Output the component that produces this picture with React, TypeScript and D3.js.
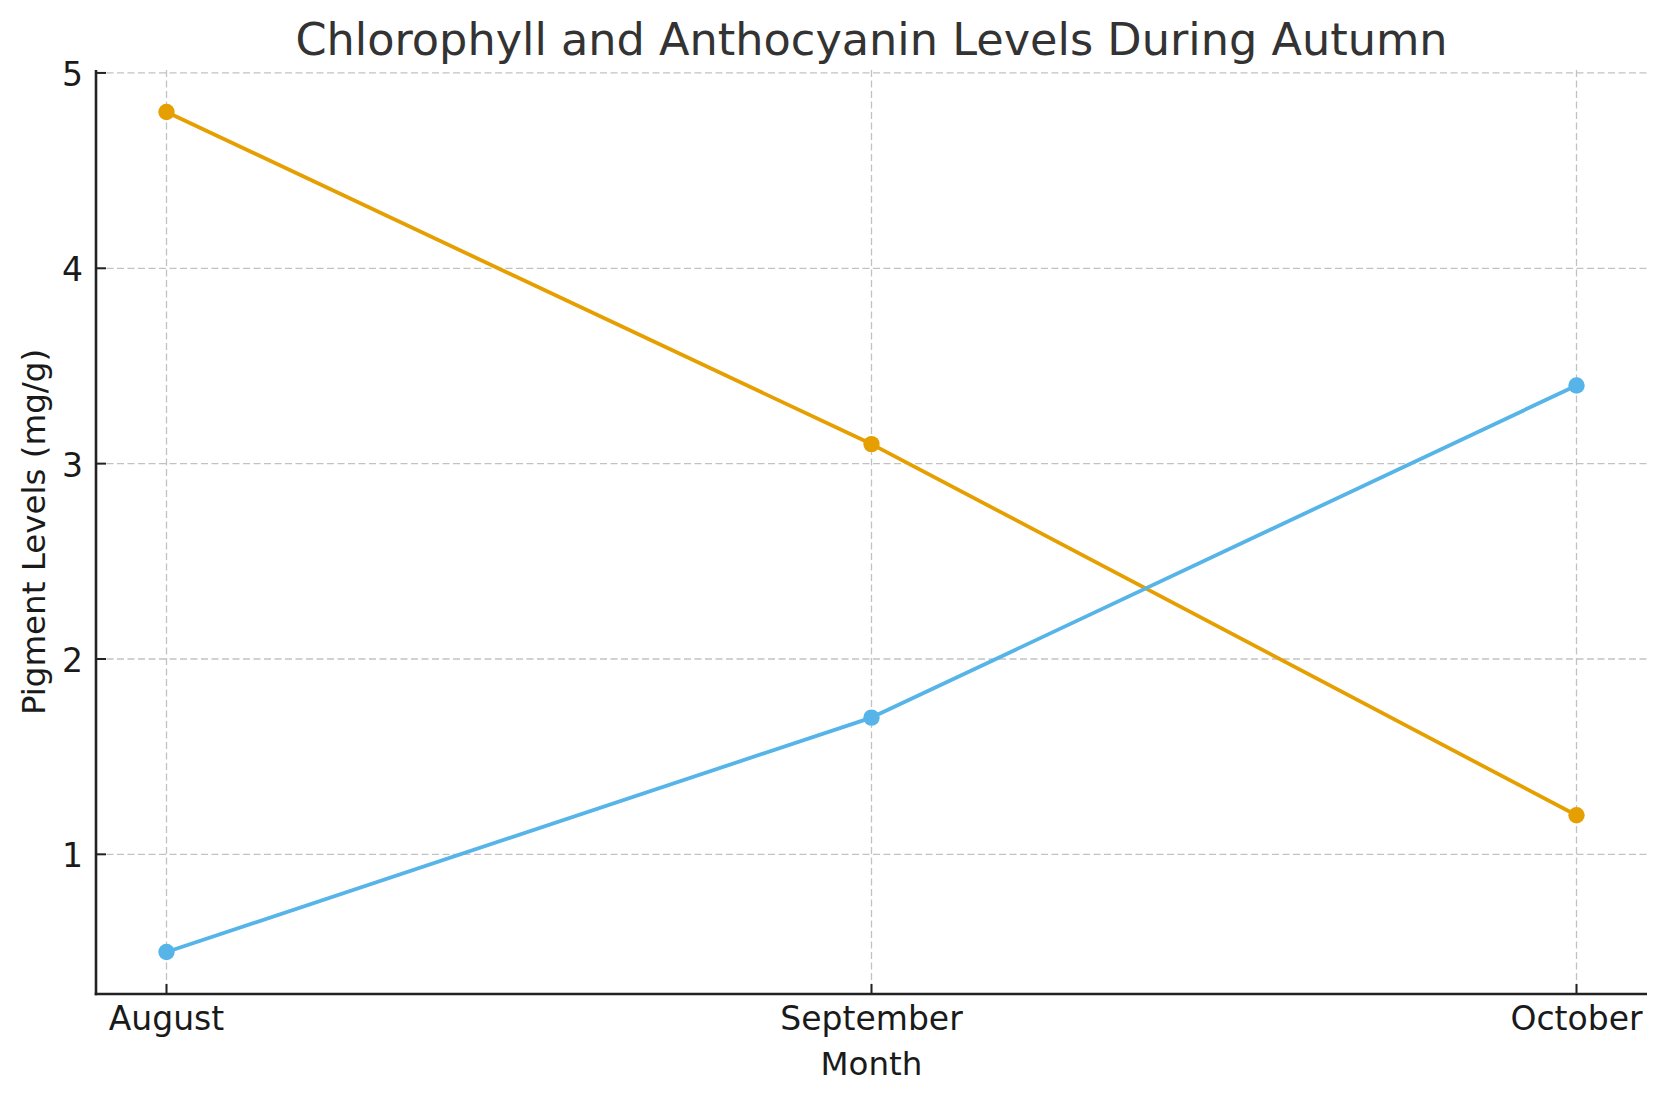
import React, { useRef, useEffect } from 'react';
import * as d3 from 'd3';

// chart data
const months = ['August', 'September', 'October'];
const chlorophyll = [4.8, 3.1, 1.2];
const anthocyanin = [0.5, 1.7, 3.4];
const yTickValues = [1, 2, 3, 4, 5];

const config = {
    w: 1665,
    h: 1101,
    left: 96,
    right: 1647,
    top: 70,
    bottom: 994,
    font: "'DejaVu Sans', sans-serif"
};

const series = [
    { name: 'Chlorophyll', values: chlorophyll, color: '#E69F00' },
    { name: 'Anthocyanin', values: anthocyanin, color: '#56B4E9' }
];

const App = () => {
    const svgRef = useRef(null);

    useEffect(() => {
        const svg = d3.select(svgRef.current);
        svg.selectAll('*').remove();

        const xScale = d3.scalePoint()
            .domain(months)
            .range([config.left, config.right])
            .padding(0.1);

        // matplotlib style 5% margins on the data range
        const all = [...chlorophyll, ...anthocyanin];
        const lo = d3.min(all), hi = d3.max(all);
        const pad = (hi - lo) * 0.05;
        const yScale = d3.scaleLinear()
            .domain([lo - pad, hi + pad])
            .range([config.bottom, config.top]);

        // grid
        const grid = svg.append('g')
            .attr('stroke', '#c2c2c2')
            .attr('stroke-width', 1.3)
            .attr('stroke-dasharray', '7,3.5');
        grid.selectAll('line.h')
            .data(yTickValues)
            .join('line')
            .attr('class', 'h')
            .attr('x1', config.left).attr('x2', config.right)
            .attr('y1', d => yScale(d)).attr('y2', d => yScale(d));
        grid.selectAll('line.v')
            .data(months)
            .join('line')
            .attr('class', 'v')
            .attr('y1', config.top).attr('y2', config.bottom)
            .attr('x1', d => xScale(d)).attr('x2', d => xScale(d));

        // lines + markers
        const line = d3.line()
            .x((d, i) => xScale(months[i]))
            .y(d => yScale(d));

        series.forEach(s => {
            svg.append('path')
                .datum(s.values)
                .attr('d', line)
                .attr('fill', 'none')
                .attr('stroke', s.color)
                .attr('stroke-width', 3.8)
                .attr('stroke-linejoin', 'round');
            svg.append('g')
                .selectAll('circle')
                .data(s.values)
                .join('circle')
                .attr('cx', (d, i) => xScale(months[i]))
                .attr('cy', d => yScale(d))
                .attr('r', 8.2)
                .attr('fill', s.color);
        });

        // spines
        const axisColor = '#222';
        svg.append('line')
            .attr('x1', config.left).attr('x2', config.left)
            .attr('y1', config.top).attr('y2', config.bottom + 1.3)
            .attr('stroke', axisColor).attr('stroke-width', 2.6);
        svg.append('line')
            .attr('x1', config.left - 1.3).attr('x2', config.right)
            .attr('y1', config.bottom).attr('y2', config.bottom)
            .attr('stroke', axisColor).attr('stroke-width', 2.6);

        // ticks (pointing in)
        svg.append('g').selectAll('line')
            .data(yTickValues)
            .join('line')
            .attr('x1', config.left).attr('x2', config.left + 10)
            .attr('y1', d => yScale(d)).attr('y2', d => yScale(d))
            .attr('stroke', axisColor).attr('stroke-width', 2);
        svg.append('g').selectAll('line')
            .data(months)
            .join('line')
            .attr('x1', d => xScale(d)).attr('x2', d => xScale(d))
            .attr('y1', config.bottom).attr('y2', config.bottom - 10)
            .attr('stroke', axisColor).attr('stroke-width', 2);

        // tick labels
        svg.append('g').selectAll('text')
            .data(yTickValues)
            .join('text')
            .attr('x', config.left - 13)
            .attr('y', d => yScale(d) + 13)
            .attr('text-anchor', 'end')
            .attr('font-size', 33)
            .attr('font-family', config.font)
            .attr('fill', '#1a1a1a')
            .text(d => d);
        svg.append('g').selectAll('text')
            .data(months)
            .join('text')
            .attr('x', d => xScale(d))
            .attr('y', 1030)
            .attr('text-anchor', 'middle')
            .attr('font-size', 33)
            .attr('font-family', config.font)
            .attr('fill', '#1a1a1a')
            .text(d => d);

        // axis labels
        svg.append('text')
            .attr('x', (config.left + config.right) / 2)
            .attr('y', 1075)
            .attr('text-anchor', 'middle')
            .attr('font-size', 32.5)
            .attr('font-family', config.font)
            .attr('fill', '#1a1a1a')
            .text('Month');
        svg.append('text')
            .attr('transform', `translate(45,${(config.top + config.bottom) / 2}) rotate(-90)`)
            .attr('text-anchor', 'middle')
            .attr('font-size', 32.5)
            .attr('font-family', config.font)
            .attr('fill', '#1a1a1a')
            .text('Pigment Levels (mg/g)');

        // title
        svg.append('text')
            .attr('x', (config.left + config.right) / 2)
            .attr('y', 55)
            .attr('text-anchor', 'middle')
            .attr('font-size', 44.6)
            .attr('font-family', config.font)
            .attr('fill', '#333')
            .text('Chlorophyll and Anthocyanin Levels During Autumn');
    }, []);

    return (
        <svg ref={svgRef} width={config.w} height={config.h}
            style={{ position: 'absolute', left: 0, top: 0, background: '#fff' }} />
    );
};

export default App;
